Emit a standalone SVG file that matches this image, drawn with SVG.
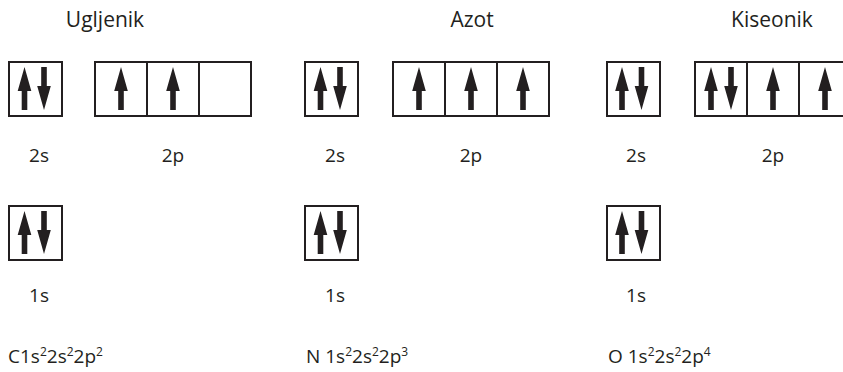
<svg xmlns="http://www.w3.org/2000/svg" xmlns:xlink="http://www.w3.org/1999/xlink" width="843" height="372" viewBox="0 0 843 372">
<style>
.t{font-family:"Open Sans","Noto Sans","Liberation Sans",sans-serif;font-size:19px;fill:#231f20}
.h{font-size:21px}
.s{font-size:12px}
.b{fill:none;stroke:#231f20;stroke-width:2}
.a{fill:#231f20}
</style>
<defs>
<path id="up" d="M0,0 L6.8,24 L2.8,24 L2.8,43 L-2.8,43 L-2.8,24 L-6.8,24 Z"/>
<path id="dn" d="M0,43 L6.8,19 L2.8,19 L2.8,0 L-2.8,0 L-2.8,19 L-6.8,19 Z"/>
</defs>
<rect width="843" height="372" fill="#fff"/>
<g id="titles">
<text class="t h" x="105" y="27" text-anchor="middle">Ugljenik</text>
<text class="t h" x="472" y="27" text-anchor="middle">Azot</text>
<text class="t h" x="772" y="27" text-anchor="middle">Kiseonik</text>
</g>
<g id="carbon">
<g id="c2s"><rect class="b" x="9" y="62" width="53" height="54"/><use href="#up" class="a" x="24.5" y="67"/><use href="#dn" class="a" x="44" y="67"/></g>
<g id="c2p"><rect class="b" x="95" y="62" width="156" height="54"/><line class="b" x1="147" y1="62" x2="147" y2="116"/><line class="b" x1="199" y1="62" x2="199" y2="116"/><use href="#up" class="a" x="121" y="67"/><use href="#up" class="a" x="173" y="67"/></g>
<g id="c1s"><rect class="b" x="9" y="206" width="53" height="54"/><use href="#up" class="a" x="24.5" y="211"/><use href="#dn" class="a" x="44" y="211"/></g>
<text class="t" x="39" y="162" text-anchor="middle">2s</text>
<text class="t" x="173" y="162" text-anchor="middle">2p</text>
<text class="t" x="39" y="302" text-anchor="middle">1s</text>
<text class="t" x="8" y="363">C1s<tspan class="s" dy="-7">2</tspan><tspan dy="7">2s</tspan><tspan class="s" dy="-7">2</tspan><tspan dy="7">2p</tspan><tspan class="s" dy="-7">2</tspan></text>
</g>
<g id="nitrogen">
<g id="n2s"><rect class="b" x="305" y="62" width="53" height="54"/><use href="#up" class="a" x="320.5" y="67"/><use href="#dn" class="a" x="340" y="67"/></g>
<g id="n2p"><rect class="b" x="393" y="62" width="156" height="54"/><line class="b" x1="445" y1="62" x2="445" y2="116"/><line class="b" x1="497" y1="62" x2="497" y2="116"/><use href="#up" class="a" x="419" y="67"/><use href="#up" class="a" x="471" y="67"/><use href="#up" class="a" x="523" y="67"/></g>
<g id="n1s"><rect class="b" x="305" y="206" width="53" height="54"/><use href="#up" class="a" x="320.5" y="211"/><use href="#dn" class="a" x="340" y="211"/></g>
<text class="t" x="335" y="162" text-anchor="middle">2s</text>
<text class="t" x="471" y="162" text-anchor="middle">2p</text>
<text class="t" x="335" y="302" text-anchor="middle">1s</text>
<text class="t" x="306" y="363">N 1s<tspan class="s" dy="-7">2</tspan><tspan dy="7">2s</tspan><tspan class="s" dy="-7">2</tspan><tspan dy="7">2p</tspan><tspan class="s" dy="-7">3</tspan></text>
</g>
<g id="oxygen">
<g id="o2s"><rect class="b" x="607" y="62" width="53" height="54"/><use href="#up" class="a" x="622" y="67"/><use href="#dn" class="a" x="641.5" y="67"/></g>
<g id="o2p"><rect class="b" x="695" y="62" width="156" height="54"/><line class="b" x1="747" y1="62" x2="747" y2="116"/><line class="b" x1="799" y1="62" x2="799" y2="116"/><use href="#up" class="a" x="711" y="67"/><use href="#dn" class="a" x="731" y="67"/><use href="#up" class="a" x="773" y="67"/><use href="#up" class="a" x="825" y="67"/></g>
<g id="o1s"><rect class="b" x="607" y="206" width="53" height="54"/><use href="#up" class="a" x="622" y="211"/><use href="#dn" class="a" x="641.5" y="211"/></g>
<text class="t" x="636" y="162" text-anchor="middle">2s</text>
<text class="t" x="773" y="162" text-anchor="middle">2p</text>
<text class="t" x="636" y="302" text-anchor="middle">1s</text>
<text class="t" x="608" y="363">O 1s<tspan class="s" dy="-7">2</tspan><tspan dy="7">2s</tspan><tspan class="s" dy="-7">2</tspan><tspan dy="7">2p</tspan><tspan class="s" dy="-7">4</tspan></text>
</g>
</svg>
